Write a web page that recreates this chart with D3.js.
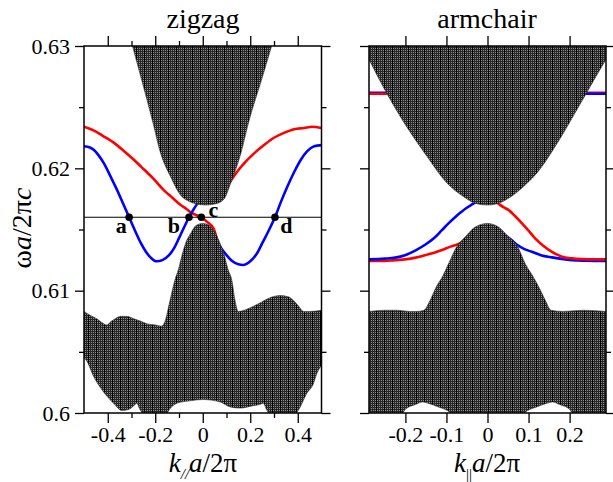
<!DOCTYPE html>
<html>
<head>
<meta charset="utf-8">
<script src="https://cdn.jsdelivr.net/npm/d3@7"></script>
<style>
  body { margin: 0; background: #fff; }
  svg { display: block; }
  text { font-family: "Liberation Serif", "Times New Roman", Times, serif; fill: #000; }
</style>
</head>
<body>
<svg width="613" height="482"></svg>
<script>
// ---- data: [k, omega] ----
// zigzag panel
const zzUpperEdge = [[-0.31,0.6310],[-0.296,0.6300],[-0.257,0.6272],[-0.212,0.6239],[-0.177,0.6212],
  [-0.135,0.6193],[-0.093,0.6178],[-0.058,0.6173],[-0.03,0.6171],[0.01,0.6170],[0.055,0.6171],
  [0.09,0.6175],[0.118,0.6188],[0.16,0.6212],[0.195,0.6239],[0.247,0.6272],[0.290,0.6300],[0.305,0.6310]];
const zzLowerTop = [[-0.5,0.6083],[-0.475,0.6080],[-0.446,0.6077],[-0.425,0.6074],[-0.404,0.6072],
  [-0.385,0.6075],[-0.369,0.6077],[-0.345,0.6079],[-0.32,0.6079],[-0.29,0.6077],[-0.26,0.6075],
  [-0.236,0.6073],[-0.2,0.6072],[-0.173,0.6071],[-0.159,0.6075],[-0.138,0.6092],[-0.117,0.6109],
  [-0.103,0.6117],[-0.086,0.6130],[-0.07,0.6140],[-0.05,0.6147],[-0.03,0.6153],[0,0.6155],
  [0.03,0.6153],[0.05,0.6148],[0.07,0.6140],[0.089,0.6130],[0.107,0.6117],[0.122,0.6109],
  [0.136,0.6092],[0.15,0.6083],[0.2,0.6086],[0.241,0.6090],[0.28,0.6094],[0.326,0.6096],
  [0.36,0.6095],[0.382,0.6092],[0.405,0.6087],[0.424,0.6083],[0.45,0.6083],[0.5,0.6084]];
const zzLowerBottom = [[-0.5,0.6045],[-0.49,0.6043],[-0.46,0.6030],[-0.432,0.6021],[-0.40,0.6013],
  [-0.376,0.6008],[-0.34,0.6002],[-0.31,0.6003],[-0.29,0.6006],[-0.278,0.6008],[-0.265,0.6003],
  [-0.25,0.5999],[-0.2,0.5995],[-0.16,0.5997],[-0.14,0.6003],[-0.109,0.6008],[-0.053,0.6010],
  [0,0.6011],[0.073,0.6009],[0.115,0.6005],[0.157,0.6004],[0.213,0.6006],[0.24,0.6007],
  [0.255,0.6008],[0.268,0.6003],[0.28,0.5999],[0.3,0.5996],[0.35,0.5995],[0.39,0.5999],
  [0.405,0.6003],[0.438,0.6016],[0.466,0.6024],[0.48,0.6032],[0.5,0.6039]];
const zzRedLeft = [[-0.5,0.6234],[-0.46,0.6231],[-0.416,0.6226],[-0.375,0.6221],[-0.331,0.6214],
  [-0.29,0.6207],[-0.247,0.6199],[-0.205,0.6191],[-0.163,0.6182],[-0.128,0.6176],[-0.093,0.6170],
  [-0.07,0.6167],[-0.051,0.6164],[-0.03,0.6162],[-0.006,0.6160],[0.02,0.6156],[0.045,0.6151],
  [0.06,0.6142],[0.072,0.6132]];
const zzRedRight = [[0.07,0.6178],[0.09,0.6183],[0.111,0.6188],[0.14,0.6196],[0.174,0.6204],
  [0.215,0.6212],[0.258,0.6219],[0.3,0.6225],[0.342,0.6229],[0.385,0.6232],[0.427,0.6233],
  [0.46,0.6234],[0.5,0.6233]];
const zzBlueLeft = [[-0.5,0.6218],[-0.475,0.6217],[-0.458,0.6215],[-0.44,0.6211],[-0.416,0.6204],
  [-0.39,0.6194],[-0.36,0.6182],[-0.335,0.6171],[-0.31,0.6160],[-0.285,0.6149],[-0.261,0.6139],
  [-0.24,0.6132],[-0.219,0.6127],[-0.195,0.6124],[-0.17,0.6125],[-0.142,0.6129],[-0.12,0.6135],
  [-0.1,0.6143],[-0.078,0.6152],[-0.058,0.6160],[-0.037,0.6167],[-0.02,0.6172],[0.0,0.6178]];
const zzBlueRight = [[0.02,0.6150],[0.045,0.6144],[0.06,0.6140],[0.076,0.6135],[0.1,0.6129],
  [0.125,0.6124],[0.15,0.61215],[0.17,0.6121],[0.2,0.6124],[0.23,0.6131],[0.251,0.6139],
  [0.28,0.6150],[0.304,0.6160],[0.33,0.6173],[0.356,0.6185],[0.385,0.6197],[0.413,0.6207],
  [0.44,0.6214],[0.469,0.6218],[0.5,0.6219]];
const zzLevel = 0.616;
const zzPoints = [-0.31, -0.058, -0.006, 0.304];
const zzPointNames = ["a", "b", "c", "d"];

// armchair panel
const acUpperEdge = [[-0.2887,0.6289],[-0.245,0.6261],[-0.197,0.6234],[-0.148,0.6210],[-0.099,0.6188],
  [-0.059,0.6177],[-0.026,0.6171],[0,0.6170],[0.023,0.6171],[0.058,0.6177],[0.097,0.6188],
  [0.12,0.6196],[0.169,0.6220],[0.218,0.6248],[0.259,0.6272],[0.2887,0.6289]];
const acLowerTop = [[-0.2887,0.6083],[-0.25,0.6084],[-0.221,0.6084],[-0.19,0.6083],[-0.172,0.6083],
  [-0.155,0.6084],[-0.14,0.6092],[-0.125,0.6103],[-0.109,0.6112],[-0.095,0.6122],[-0.075,0.6136],
  [-0.054,0.6144],[-0.03,0.6152],[0,0.6155],[0.027,0.6152],[0.051,0.6144],[0.072,0.6137],
  [0.092,0.6122],[0.112,0.6111],[0.128,0.6101],[0.141,0.6092],[0.155,0.6084],[0.185,0.6083],
  [0.234,0.6084],[0.2887,0.6083]];
const acLowerBottom = [[-0.2887,0.599],[-0.215,0.5995],[-0.2,0.6003],[-0.175,0.6007],[-0.158,0.6009],
  [-0.145,0.6008],[-0.12,0.6005],[-0.09,0.6000],[-0.08,0.5995],[0.08,0.5995],[0.09,0.6000],
  [0.12,0.6005],[0.145,0.6008],[0.158,0.6009],[0.175,0.6007],[0.2,0.6003],[0.215,0.5995],[0.2887,0.599]];
const acBlueLeft = [[-0.2887,0.61256],[-0.25,0.61262],[-0.225,0.6127],[-0.201,0.6129],[-0.175,0.6133],
  [-0.152,0.61375],[-0.13,0.6143],[-0.111,0.61495],[-0.095,0.6155],[-0.079,0.6160],[-0.065,0.6164],
  [-0.054,0.6167],[-0.04,0.6170],[-0.03,0.6172],[-0.015,0.6174]];
const acRedLeft = [[-0.2887,0.61242],[-0.25,0.61243],[-0.225,0.6125],[-0.201,0.61256],[-0.175,0.6127],
  [-0.152,0.6129],[-0.13,0.6131],[-0.111,0.61332],[-0.09,0.6136],[-0.075,0.61375],[-0.06,0.6140],[-0.04,0.6144]];
const acRedRight = [[0.015,0.6174],[0.027,0.6171],[0.04,0.6168],[0.051,0.6166],[0.067,0.6161],
  [0.084,0.6155],[0.1,0.6149],[0.116,0.61428],[0.135,0.6137],[0.157,0.61318],[0.18,0.6128],
  [0.206,0.61264],[0.23,0.61258],[0.255,0.61256],[0.2887,0.61256]];
const acBlueRight = [[0.04,0.6146],[0.06,0.6141],[0.072,0.61375],[0.09,0.6134],[0.108,0.61318],
  [0.13,0.6129],[0.157,0.61272],[0.18,0.6126],[0.206,0.6125],[0.24,0.61245],[0.2887,0.61242]];
const acBlueTopLeft = [[-0.2887,0.62617],[-0.2,0.62617]];
const acRedTopLeft = [[-0.2887,0.6261],[-0.2,0.6261]];
const acRedTopRight = [[0.2,0.62617],[0.2887,0.62617]];
const acBlueTopRight = [[0.2,0.6261],[0.2887,0.6261]];

// ticks
const zzMajorX = [-0.4, -0.2, 0, 0.2, 0.4];
const zzMinorX = [-0.3, -0.1, 0.1, 0.3];
const acMajorX = [-0.2, -0.1, 0, 0.1, 0.2];
const majorY = [0.6, 0.61, 0.62, 0.63];
const minorY = [0.605, 0.615, 0.625];

const SERIF = '"Liberation Serif", "Times New Roman", Times, serif';

// ---- setup ----
let svg = d3.select("svg");
let defs = svg.append("defs");

let y = d3.scaleLinear().domain([0.6, 0.63]).range([413, 46]);
let xZ = d3.scaleLinear().domain([-0.5, 0.5]).range([84, 321.5]);
let xA = d3.scaleLinear().domain([-0.2887, 0.2887]).range([369, 606]);

// dark speckled fill with vertical stripes (like the grace pattern)
let pat = defs.append("pattern")
    .attr("id", "speckle")
    .attr("patternUnits", "userSpaceOnUse")
    .attr("width", 8).attr("height", 2);
pat.append("rect").attr("width", 8).attr("height", 2).attr("fill", "#262626");
[1, 3, 5, 7].forEach(px => {
    pat.append("rect").attr("x", px).attr("y", 0).attr("width", 1).attr("height", 1).attr("fill", "#8c8c8c");
});
pat.append("rect").attr("x", 0).attr("y", 0).attr("width", 1).attr("height", 2).attr("fill", "#000");

function addClip(id, x){
    let r = x.range();
    defs.append("clipPath").attr("id", id)
        .append("rect")
        .attr("x", r[0]).attr("y", y(0.63))
        .attr("width", r[1] - r[0]).attr("height", y(0.6) - y(0.63));
}

function drawCurve(g, x, pts, color){
    g.append("path")
        .datum(pts)
        .attr("d", d3.line().x(d => x(d[0])).y(d => y(d[1])).curve(d3.curveMonotoneX))
        .attr("fill", "none")
        .attr("stroke", color)
        .attr("stroke-width", 2.6);
}

function drawUpperBand(g, x, edge){
    g.append("path")
        .datum(edge)
        .attr("d", d3.area().x(d => x(d[0])).y0(y(0.635)).y1(d => y(d[1])).curve(d3.curveMonotoneX))
        .attr("fill", "url(#speckle)")
        .attr("stroke", "#333")
        .attr("stroke-width", 0.6);
}

function drawLowerBand(g, x, top, bottom){
    let line = d3.line().x(d => x(d[0])).y(d => y(d[1])).curve(d3.curveMonotoneX);
    let p1 = line(top);
    let p2 = line(bottom.slice().reverse());
    g.append("path")
        .attr("d", p1 + "L" + p2.slice(1) + "Z")
        .attr("fill", "url(#speckle)")
        .attr("stroke", "#333")
        .attr("stroke-width", 0.6);
}

function fmt(d){
    return d === 0 ? "0" : String(+d.toFixed(2));
}

function styleAxis(g){
    g.attr("font-family", SERIF).attr("font-size", 22);
    g.select(".domain").remove();
    g.selectAll(".tick line").attr("stroke", "#000").attr("stroke-width", 1.3);
    g.selectAll("text")
        .attr("font-family", SERIF)
        .style("font-family", SERIF)
        .style("font-size", "22px")
        .attr("fill", "#000");
}

function drawFrame(x){
    let r = x.range();
    svg.append("rect")
        .attr("x", r[0]).attr("y", y(0.63))
        .attr("width", r[1] - r[0]).attr("height", y(0.6) - y(0.63))
        .attr("fill", "none").attr("stroke", "#000").attr("stroke-width", 1.5);
}

function drawAxes(x, majorX, minorX, labelY){
    let r = x.range();
    svg.append("g").attr("transform", `translate(0,${y(0.6)})`)
        .call(d3.axisBottom(x).tickValues(majorX).tickSize(10).tickPadding(3).tickFormat(fmt))
        .call(styleAxis);
    svg.append("g").attr("transform", `translate(0,${y(0.63)})`)
        .call(d3.axisTop(x).tickValues(majorX).tickSize(10).tickFormat(""))
        .call(styleAxis);
    if (minorX.length){
        svg.append("g").attr("transform", `translate(0,${y(0.6)})`)
            .call(d3.axisBottom(x).tickValues(minorX).tickSize(5).tickFormat(""))
            .call(styleAxis);
        svg.append("g").attr("transform", `translate(0,${y(0.63)})`)
            .call(d3.axisTop(x).tickValues(minorX).tickSize(5).tickFormat(""))
            .call(styleAxis);
    }
    svg.append("g").attr("transform", `translate(${r[0]},0)`)
        .call(d3.axisLeft(y).tickValues(majorY).tickSize(9).tickPadding(5)
              .tickFormat(labelY ? d => String(+d.toFixed(2)) : ""))
        .call(styleAxis);
    svg.append("g").attr("transform", `translate(${r[0]},0)`)
        .call(d3.axisLeft(y).tickValues(minorY).tickSize(5).tickFormat(""))
        .call(styleAxis);
    svg.append("g").attr("transform", `translate(${r[1]},0)`)
        .call(d3.axisRight(y).tickValues(majorY).tickSize(9).tickFormat(""))
        .call(styleAxis);
    svg.append("g").attr("transform", `translate(${r[1]},0)`)
        .call(d3.axisRight(y).tickValues(minorY).tickSize(5).tickFormat(""))
        .call(styleAxis);
}

function xLabel(cx, sub, subItalic){
    let t = svg.append("text")
        .attr("x", cx).attr("y", 472)
        .attr("text-anchor", "middle")
        .attr("font-family", SERIF)
        .style("font-size", "27px");
    t.append("tspan").style("font-style", "italic").text("k");
    t.append("tspan").attr("dy", 7).style("font-size", "15px")
        .style("font-style", subItalic ? "italic" : "normal").text(sub);
    t.append("tspan").attr("dy", -7).style("font-style", "italic").text("a");
    t.append("tspan").text("/2π");
}

// ---- zigzag panel ----
addClip("clipZ", xZ);
let gZ = svg.append("g").attr("clip-path", "url(#clipZ)");
drawCurve(gZ, xZ, zzRedLeft, "#ff0000");
drawCurve(gZ, xZ, zzRedRight, "#ff0000");
drawCurve(gZ, xZ, zzBlueLeft, "#0000ff");
drawCurve(gZ, xZ, zzBlueRight, "#0000ff");
drawUpperBand(gZ, xZ, zzUpperEdge);
drawLowerBand(gZ, xZ, zzLowerTop, zzLowerBottom);

gZ.append("line")
    .attr("x1", xZ(-0.5)).attr("x2", xZ(0.5))
    .attr("y1", y(zzLevel)).attr("y2", y(zzLevel))
    .attr("stroke", "#000").attr("stroke-width", 1.2);

gZ.selectAll("circle.pt")
    .data(zzPoints).enter().append("circle")
        .attr("class", "pt")
        .attr("cx", d => xZ(d))
        .attr("cy", y(zzLevel))
        .attr("r", 3.8)
        .attr("fill", "#000");

// label offsets from their dots
const labelOffsets = [[-8, 16], [-15, 16], [12, -0.5], [11.5, 16]];
svg.selectAll("text.ptLabel")
    .data(zzPoints).enter().append("text")
        .attr("class", "ptLabel")
        .attr("x", (d, i) => xZ(d) + labelOffsets[i][0])
        .attr("y", (d, i) => y(zzLevel) + labelOffsets[i][1])
        .attr("text-anchor", "middle")
        .attr("font-family", SERIF)
        .style("font-size", "22px")
        .style("font-weight", "bold")
        .text((d, i) => zzPointNames[i]);

drawFrame(xZ);
drawAxes(xZ, zzMajorX, zzMinorX, true);

// ---- armchair panel ----
addClip("clipA", xA);
let gA = svg.append("g").attr("clip-path", "url(#clipA)");
drawCurve(gA, xA, acBlueTopLeft, "#0000ff");
drawCurve(gA, xA, acRedTopLeft, "#ff0000");
drawCurve(gA, xA, acRedTopRight, "#ff0000");
drawCurve(gA, xA, acBlueTopRight, "#0000ff");
drawCurve(gA, xA, acRedLeft, "#ff0000");
drawCurve(gA, xA, acBlueLeft, "#0000ff");
drawCurve(gA, xA, acBlueRight, "#0000ff");
drawCurve(gA, xA, acRedRight, "#ff0000");
drawUpperBand(gA, xA, acUpperEdge);
drawLowerBand(gA, xA, acLowerTop, acLowerBottom);

drawFrame(xA);
drawAxes(xA, acMajorX, [], false);

// ---- titles and axis labels ----
svg.append("text").attr("x", 203).attr("y", 28).attr("text-anchor", "middle")
    .attr("font-family", SERIF).style("font-size", "28px").text("zigzag");
svg.append("text").attr("x", 487).attr("y", 28).attr("text-anchor", "middle")
    .attr("font-family", SERIF).style("font-size", "28px").text("armchair");

let yl = svg.append("text")
    .attr("transform", "translate(31,228) rotate(-90)")
    .attr("text-anchor", "middle")
    .attr("font-family", SERIF)
    .style("font-size", "28px");
yl.append("tspan").text("ω");
yl.append("tspan").style("font-style", "italic").text("a");
yl.append("tspan").text("/2π");
yl.append("tspan").style("font-style", "italic").text("c");

xLabel(203, "//", true);
xLabel(487, "||", false);
</script>
</body>
</html>
